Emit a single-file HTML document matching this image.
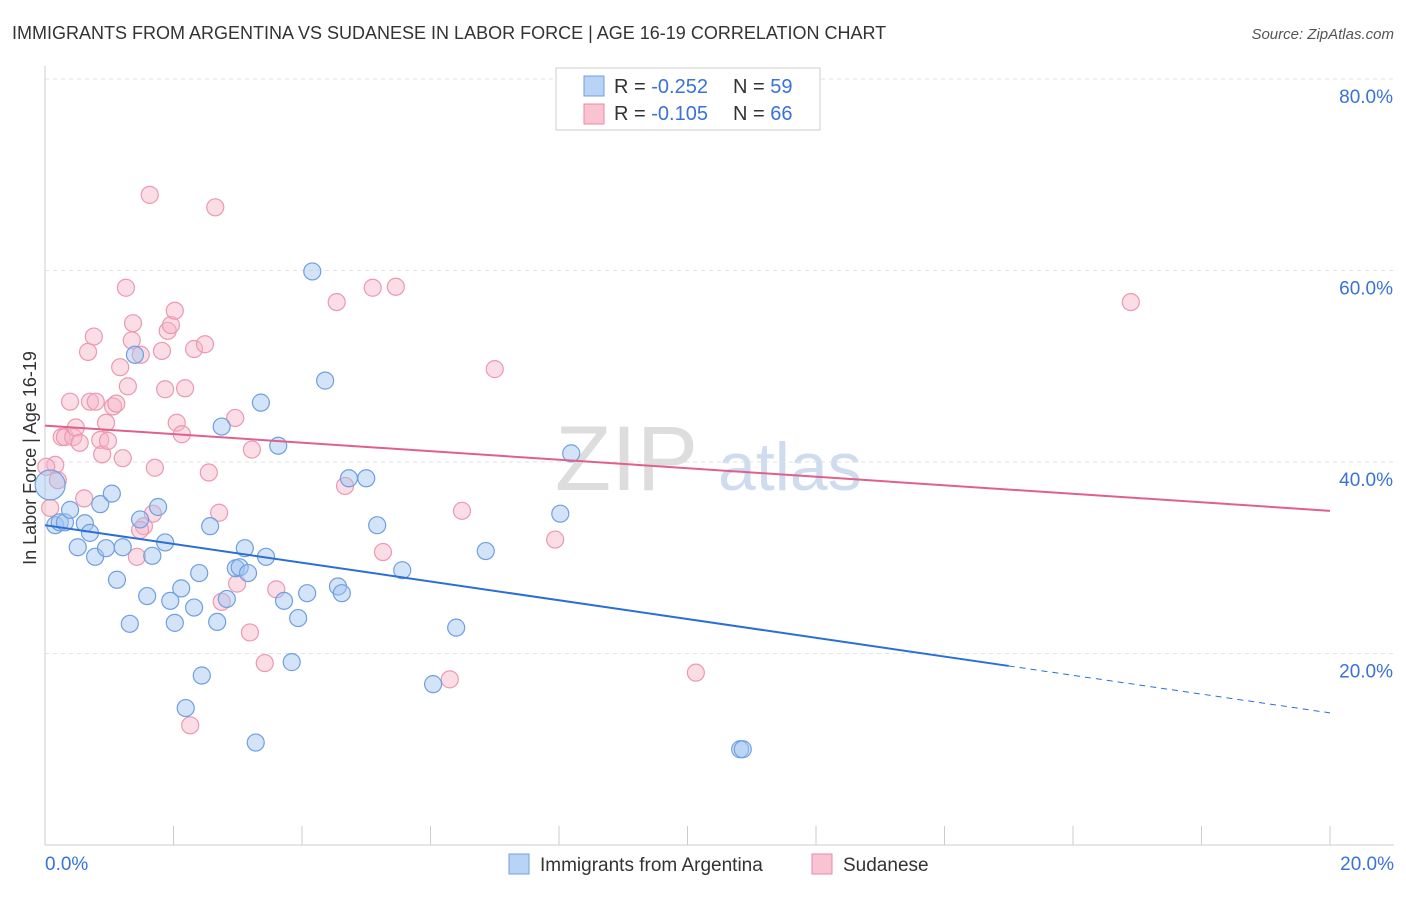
<!DOCTYPE html>
<html><head><meta charset="utf-8"><style>
body{margin:0;background:#fff;font-family:"Liberation Sans",sans-serif}
svg text{font-family:"Liberation Sans",sans-serif}
</style></head><body>
<svg id="c" width="1406" height="892">
<text x="12" y="39" font-size="18" fill="#333">IMMIGRANTS FROM ARGENTINA VS SUDANESE IN LABOR FORCE | AGE 16-19 CORRELATION CHART</text>
<text x="1394" y="39" font-size="15" fill="#555" font-style="italic" text-anchor="end">Source: ZipAtlas.com</text>
<text x="36" y="458" font-size="18" fill="#333" text-anchor="middle" transform="rotate(-90 36 458)">In Labor Force | Age 16-19</text>
<text x="555" y="490" font-size="92" fill="#ddd" font-family="Liberation Serif">ZIP</text>
<text x="718" y="490" font-size="68" fill="#cfdcef">atlas</text>
<g id="grid"></g><g id="pts"></g><g id="trend"></g>
<g>
<rect x="556" y="68" width="264" height="62" fill="#fff" stroke="#ccc"/>
<rect x="584" y="76" width="20" height="20" fill="#b8d3f5" stroke="#6f9fe0"/>
<rect x="584" y="104" width="20" height="20" fill="#f9c3d2" stroke="#e88aa6"/>
<text x="614" y="93" font-size="20" fill="#333">R = <tspan fill="#3a72d8">-0.252</tspan></text>
<text x="733" y="93" font-size="20" fill="#333">N = <tspan fill="#3a72d8">59</tspan></text>
<text x="614" y="120" font-size="20" fill="#333">R = <tspan fill="#3a72d8">-0.105</tspan></text>
<text x="733" y="120" font-size="20" fill="#333">N = <tspan fill="#3a72d8">66</tspan></text>
</g>
<g>
<rect x="509" y="854" width="20" height="20" fill="#b8d3f5" stroke="#6f9fe0"/>
<text x="540" y="871" font-size="19" fill="#333">Immigrants from Argentina</text>
<rect x="812" y="854" width="20" height="20" fill="#f9c3d2" stroke="#e88aa6"/>
<text x="843" y="871" font-size="19" fill="#333">Sudanese</text>
</g>
</svg>
<script>
const yTicks=[20,40,60,80];
const yTickLabels=["20.0%","40.0%","60.0%","80.0%"];
const xTickLabels=["0.0%","20.0%"];
const blueX=[.08,.16,.23,.31,.39,.51,.62,.70,.78,.86,.95,1.04,1.12,1.21,1.32,1.40,1.48,1.59,1.67,1.76,1.87,1.95,2.02,2.12,2.19,2.32,2.40,2.44,2.57,2.68,2.75,2.83,2.97,3.03,3.11,3.16,3.28,3.36,3.44,3.63,3.72,3.84,3.94,4.08,4.16,4.36,4.56,4.62,4.73,5.00,5.17,5.56,6.04,6.40,6.86,8.02,8.19,10.82,10.86];
const blueY=[37.6,33.4,33.7,33.7,35.0,31.1,33.6,32.6,30.1,35.6,31.0,36.7,27.7,31.1,23.1,51.2,34.0,26.0,30.2,35.3,31.6,25.5,23.2,26.8,14.3,24.8,28.4,17.7,33.3,23.3,43.7,25.7,28.9,29.0,31.0,28.4,10.7,46.2,30.1,41.7,25.5,19.1,23.7,26.3,59.9,48.5,27.0,26.3,38.3,38.3,33.4,28.7,16.8,22.7,30.7,34.6,40.9,10.0,10.0];
const pinkX=[.08,.16,.20,.26,.31,.39,.44,.48,.54,.61,.67,.70,.76,.79,.86,.89,.95,.98,1.06,1.11,1.17,1.21,1.26,1.29,1.35,1.37,1.43,1.49,1.54,1.63,1.68,1.71,1.82,1.87,1.91,1.96,2.02,2.05,2.13,2.18,2.32,2.49,2.55,2.65,2.71,2.75,2.96,2.99,3.19,3.22,3.42,3.60,4.54,4.67,5.10,5.26,5.46,6.30,6.49,7.00,7.94,10.13,16.90,2.26,1.48,0.02];
const pinkY=[35.2,39.7,38.1,42.6,42.6,46.3,42.6,43.6,42.0,36.2,51.5,46.3,53.1,46.3,42.3,40.8,44.1,42.2,45.8,46.1,49.9,40.4,58.2,47.9,52.7,54.5,30.1,51.2,33.3,67.9,34.6,39.4,51.6,47.6,53.7,54.3,55.8,44.1,42.9,47.7,51.8,52.3,38.9,66.6,34.7,25.4,44.6,27.3,22.2,41.3,19.0,26.7,56.7,37.5,58.2,30.6,58.3,17.3,34.9,49.7,31.9,18.0,56.7,12.5,32.9,39.5];
const blueTrend=[33.4,13.8], blueSolidEnd=15.0;
const pinkTrend=[43.8,34.9];
const NS="http://www.w3.org/2000/svg";
const X0=45,X1=1330,Y0=845,YS=191.5/20;
const sx=v=>X0+(v/20)*(X1-X0), sy=v=>Y0-v*YS;
function mk(t,a,p){const e=document.createElementNS(NS,t);for(const k in a)e.setAttribute(k,a[k]);p.appendChild(e);return e;}
const grid=document.getElementById('grid');
let l=mk('line',{x1:X0,y1:66,x2:X0,y2:Y0,stroke:'#ccc'},grid);


l=mk('line',{x1:X0,y1:Y0,x2:1394,y2:Y0,stroke:'#ccc'},grid);


yTicks.forEach((v,i)=>{
 const g=mk('line',{x1:X0,y1:sy(v),x2:1394,y2:sy(v),stroke:'#e2e2e2','stroke-dasharray':'4 4'},grid);
 
 
 const t=mk('text',{x:1393,y:sy(v)+24,'font-size':19,fill:'#3a72d8','text-anchor':'end'},grid);t.textContent=yTickLabels[i];
 
 
});
for(let i=0;i<=10;i++){const x=sx(i*2);
 const t=mk('line',{x1:x,y1:826,x2:x,y2:Y0,stroke:'#ccc'},grid);
 
 }
let t=mk('text',{x:45,y:870,'font-size':19,fill:'#3a72d8'},grid);t.textContent=xTickLabels[0];


t=mk('text',{x:1394,y:870,'font-size':19,fill:'#3a72d8','text-anchor':'end'},grid);t.textContent=xTickLabels[1];


const pts=document.getElementById('pts');
pinkX.forEach((v,i)=>{const c=mk('circle',{cx:sx(v),cy:sy(pinkY[i]),r:8.5,fill:'rgba(246,180,200,0.45)',stroke:'#ec98b2','stroke-width':1.2},pts);
 
 });
blueX.forEach((v,i)=>{const c=mk('circle',{cx:sx(v),cy:sy(blueY[i]),r:i===0?15:8.5,fill:'rgba(160,196,240,0.45)',stroke:'#6f9fe0','stroke-width':1.2},pts);
 
 });
const tr=document.getElementById('trend');
const by=x=>blueTrend[0]+(blueTrend[1]-blueTrend[0])*x/20;
l=mk('line',{x1:sx(0),y1:sy(by(0)),x2:sx(blueSolidEnd),y2:sy(by(blueSolidEnd)),stroke:'#2a6fd6','stroke-width':2},tr);


l=mk('line',{x1:sx(blueSolidEnd),y1:sy(by(blueSolidEnd)),x2:sx(20),y2:sy(by(20)),stroke:'#2a6fd6','stroke-width':1,'stroke-dasharray':'6 5'},tr);


l=mk('line',{x1:sx(0),y1:sy(pinkTrend[0]),x2:sx(20),y2:sy(pinkTrend[1]),stroke:'#e0608c','stroke-width':2},tr);


</script>
</body></html>
